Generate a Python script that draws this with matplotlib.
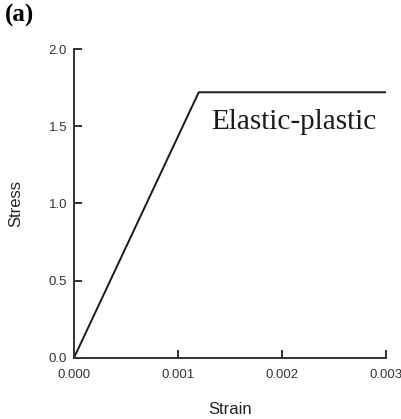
import matplotlib
matplotlib.use("Agg")
import matplotlib.pyplot as plt

# Bilinear elastic-plastic stress-strain curve
strain = [0.0, 0.0012, 0.003]
stress = [0.0, 1.72, 1.72]

x_ticks = [0.000, 0.001, 0.002, 0.003]
x_tick_labels = ["0.000", "0.001", "0.002", "0.003"]
y_ticks = [0.0, 0.5, 1.0, 1.5, 2.0]
y_tick_labels = ["0.0", "0.5", "1.0", "1.5", "2.0"]

fig = plt.figure(figsize=(4.02, 4.19), dpi=100)
ax = fig.add_axes([0.184, 0.146, 0.776, 0.737])

ax.plot(strain, stress, color="#1a1a1a", lw=1.4, solid_capstyle="butt")

ax.set_xlim(0, 0.003)
ax.set_ylim(0, 2.0)
ax.set_xticks(x_ticks)
ax.set_xticklabels(x_tick_labels)
ax.set_yticks(y_ticks)
ax.set_yticklabels(y_tick_labels)

for side in ("top", "right"):
    ax.spines[side].set_visible(False)
for side in ("left", "bottom"):
    ax.spines[side].set_linewidth(1.4)
    ax.spines[side].set_color("#333333")

ax.tick_params(direction="in", length=5.5, width=1.4, color="#333333",
               labelsize=9.5, labelcolor="#333333")
ax.tick_params(axis="x", pad=8)
ax.tick_params(axis="y", pad=5)
for lbl in ax.get_xticklabels() + ax.get_yticklabels():
    lbl.set_fontfamily("Liberation Sans")

ax.set_xlabel("Strain", fontsize=12, family="Liberation Sans", color="#222222", labelpad=15)
ax.set_ylabel("Stress", fontsize=12, family="Liberation Sans", color="#222222", labelpad=18)

ax.text(0.00291, 1.53, "Elastic-plastic", ha="right", va="center",
        fontsize=21, family="Liberation Serif", color="#1a1a1a")

fig.text(0.012, 0.99, "(a)", ha="left", va="top", fontsize=18,
         fontweight="bold", family="Liberation Serif")

fig.savefig("out.png", dpi=100)
